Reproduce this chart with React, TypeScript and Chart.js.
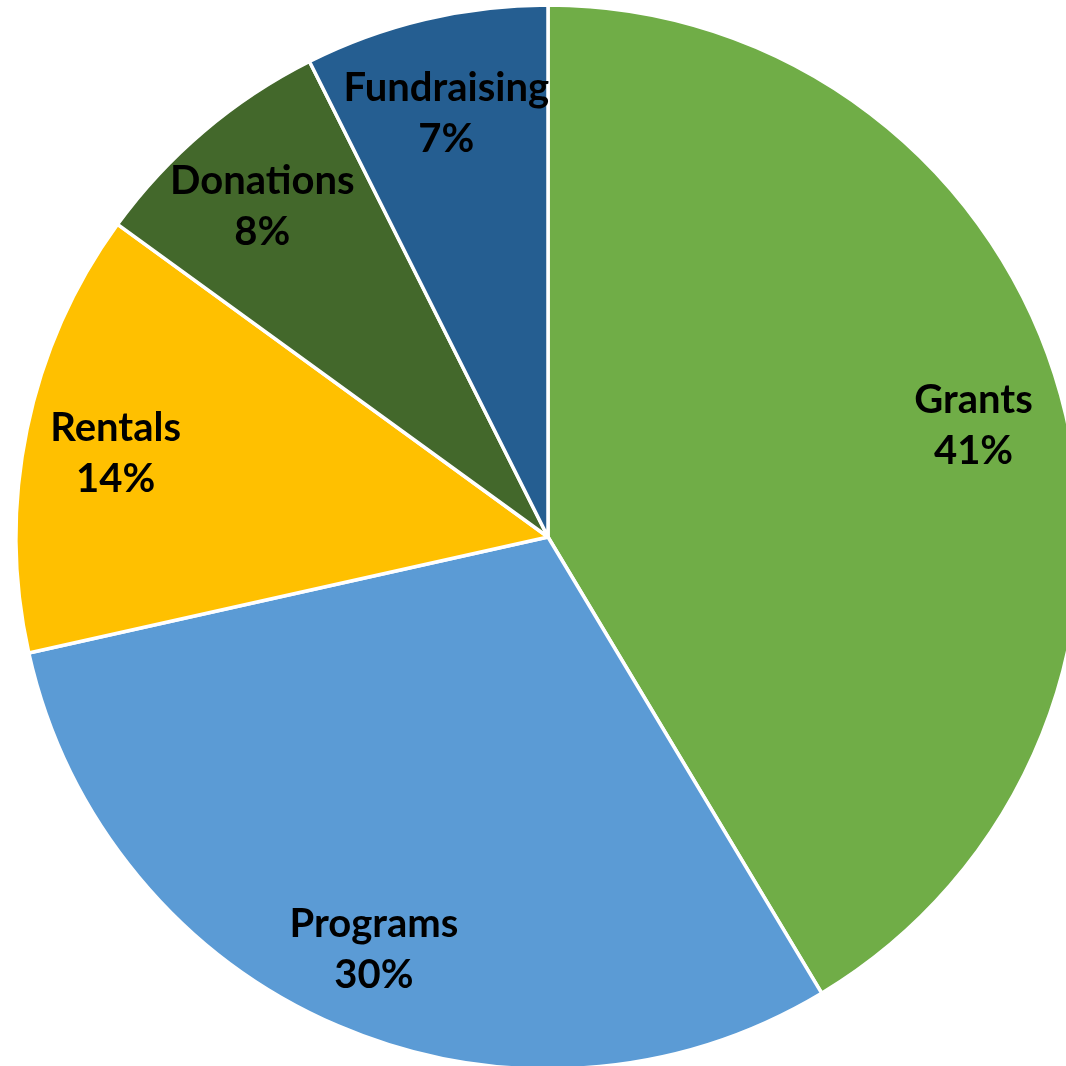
import React, { useEffect, useRef } from "react";
import { Chart, registerables } from "chart.js";

Chart.register(...registerables);

const categories = ["Grants", "Programs", "Rentals", "Donations", "Fundraising"];
const values = [41.4, 30.1, 13.5, 7.6, 7.4];
const colors = ["#70AD47", "#5B9BD5", "#FFC000", "#43682B", "#255E91"];

const labelPlugin = {
  id: "sliceLabels",
  afterDatasetsDraw(chart: any) {
    const ctx = chart.ctx;
    const meta = chart.getDatasetMeta(0);
    const data = chart.data.datasets[0].data as number[];
    const total = data.reduce((a, b) => a + b, 0);
    ctx.save();
    ctx.fillStyle = "#000";
    ctx.textAlign = "center";
    ctx.textBaseline = "middle";
    ctx.font = "bold 40px Lato, 'Open Sans', sans-serif";
    meta.data.forEach((arc: any, i: number) => {
      const mid = (arc.startAngle + arc.endAngle) / 2;
      const r = arc.outerRadius * 0.83;
      const x = arc.x + Math.cos(mid) * r;
      const y = arc.y + Math.sin(mid) * r + 6;
      const pct = Math.round((data[i] / total) * 100) + "%";
      ctx.fillText(chart.data.labels[i], x, y - 25);
      ctx.fillText(pct, x, y + 26);
    });
    ctx.restore();
  },
};

export default function App() {
  const ref = useRef<HTMLCanvasElement>(null);
  useEffect(() => {
    if (!ref.current) return;
    const chart = new Chart(ref.current, {
      type: "pie",
      data: {
        labels: categories,
        datasets: [
          {
            data: values,
            backgroundColor: colors,
            borderColor: "#FFFFFF",
            borderWidth: 3.5,
          },
        ],
      },
      options: {
        responsive: false,
        animation: false,
        devicePixelRatio: 1,
        radius: 532,
        layout: { padding: 0 },
        plugins: {
          legend: { display: false },
          tooltip: { enabled: false },
        },
      } as any,
      plugins: [labelPlugin],
    });
    return () => chart.destroy();
  }, []);
  return (
    <div
      style={{
        position: "fixed",
        left: 0,
        top: 0,
        width: 1066,
        height: 1066,
        overflow: "hidden",
        background: "#fff",
      }}
    >
      <canvas
        ref={ref}
        width={1096}
        height={1074}
        style={{ position: "absolute", left: 0, top: 0, width: 1096, height: 1074 }}
      />
    </div>
  );
}
